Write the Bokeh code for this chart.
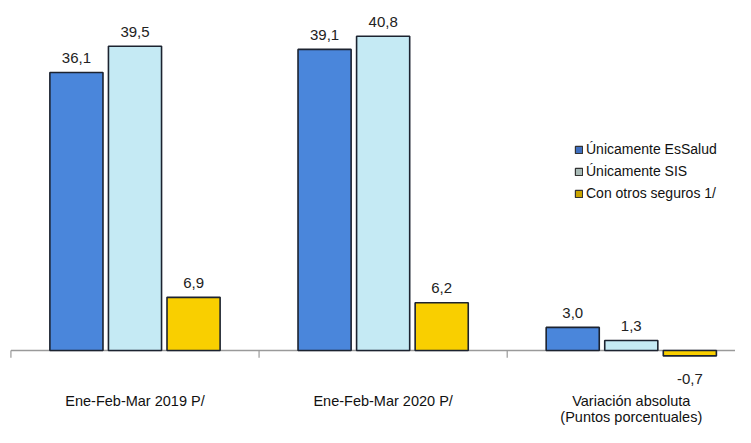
from bokeh.plotting import figure
from bokeh.models import ColumnDataSource, Legend, LegendItem, Range1d
from bokeh.core.properties import value
from bokeh.embed import file_html
from bokeh.resources import INLINE

categories = ["Ene-Feb-Mar 2019 P/", "Ene-Feb-Mar 2020 P/", "Variación absoluta"]
category_sub = ["", "", "(Puntos porcentuales)"]
series_names = ["Únicamente EsSalud", "Únicamente SIS", "Con otros seguros 1/"]
essalud = [36.1, 39.1, 3.0]
sis = [39.5, 40.8, 1.3]
otros = [6.9, 6.2, -0.7]
cat_edges = [0, 1, 2, 3]

bar_colors = ["#4A86DB", "#C5EAF4", "#F9CF00"]
legend_colors = ["#3F6FC0", "#A9BBB7", "#C9A400"]
offsets = [-0.236, 0.0, 0.236]
bar_w = 0.214

FONT = "Liberation Sans"

p = figure(width=735, height=427, output_backend="svg", toolbar_location=None,
           x_range=Range1d(-0.042, 2.92), y_range=Range1d(-10.0, 45.45),
           min_border_left=0, min_border_right=0, min_border_top=0, min_border_bottom=0)
p.outline_line_color = None
p.grid.visible = False
p.xaxis.visible = False
p.yaxis.visible = False
p.background_fill_color = "white"

# baseline & tick marks
p.segment(x0=[cat_edges[0]], y0=[0], x1=[cat_edges[-1]], y1=[0], line_color="#9a9a9a", line_width=1.5)
p.segment(x0=cat_edges, y0=[0]*4, x1=cat_edges, y1=[-0.95]*4, line_color="#9a9a9a", line_width=1.2)

centers = [i + 0.5 for i in range(len(categories))]
for vals, col, off in zip([essalud, sis, otros], bar_colors, offsets):
    xs = [c + off for c in centers]
    src = ColumnDataSource(dict(x=xs, top=vals, bottom=[0]*3,
                                lab=[f"{v:.1f}".replace(".", ",") for v in vals],
                                ly=[v + 1.9 if v >= 0 else v - 3.0 for v in vals]))
    p.vbar(x="x", top="top", bottom="bottom", width=bar_w, source=src,
           fill_color=col, line_color="#1c2330", line_width=1.6)
    p.text(x="x", y="ly", text="lab", source=src, text_align="center", text_baseline="middle",
           text_font=value(FONT), text_font_size="15px", text_color="#222222")

# category labels
csrc = ColumnDataSource(dict(x=centers, y=[-6.6]*3, t=categories, y2=[-8.62]*3, t2=category_sub))
p.text(x="x", y="y", text="t", source=csrc, text_align="center", text_baseline="middle",
       text_font=value(FONT), text_font_size="14.5px", text_color="#111111")
p.text(x="x", y="y2", text="t2", source=csrc, text_align="center", text_baseline="middle",
       text_font=value(FONT), text_font_size="14.5px", text_color="#111111")

# legend proxies
nan = float("nan")
items = []
for name, col in zip(series_names, legend_colors):
    r = p.quad(left=[nan], right=[nan], top=[nan], bottom=[nan], fill_color=col,
               line_color="#333333", line_width=1.2)
    items.append(LegendItem(label=name, renderers=[r]))
leg = Legend(items=items, location=(574, 226), border_line_color=None, background_fill_alpha=0,
             label_text_font=FONT, label_text_font_size="14px", label_text_color="#111111",
             glyph_width=9, glyph_height=9, spacing=6, padding=0, margin=0,
             label_standoff=3, label_height=14)
p.add_layout(leg, "center")

open("out.html", "w").write(file_html(p, INLINE))
